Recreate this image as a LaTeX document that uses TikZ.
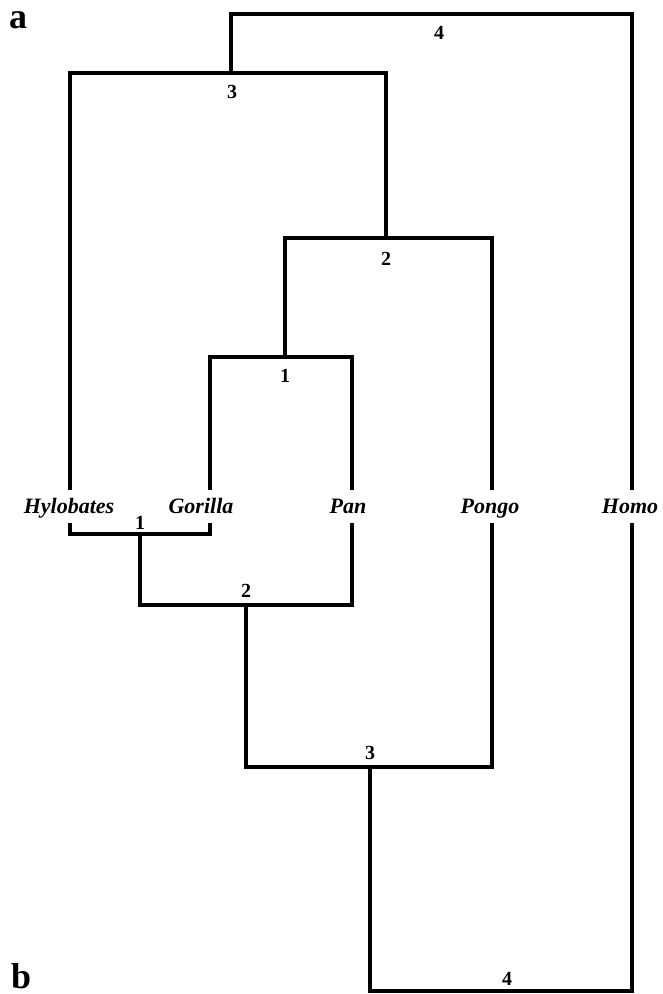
\documentclass[tikz,border=0pt]{standalone}
\usepackage{fontspec}
\setmainfont{Liberation Serif}
\begin{document}
\begin{tikzpicture}[x=1pt,y=-1pt,
  br/.style={line width=4.5pt,line join=miter,line cap=butt},
  taxon/.style={inner sep=0pt,anchor=base,font=\fontsize{22}{22}\selectfont\bfseries\itshape},
  num/.style={inner sep=0pt,anchor=base,font=\fontsize{20}{20}\selectfont\bfseries},
  panel/.style={inner sep=0pt,anchor=base west,font=\fontsize{36}{36}\selectfont\bfseries}]
\useasboundingbox (0,0) rectangle (663,994);
% panel letters
\node[panel] (pa) at (9,28) {a};
\node[panel] (pb) at (11,988) {b};
% taxa
\node[taxon] (hyl) at (69,513) {Hylobates};
\node[taxon] (gor) at (201,513) {Gorilla};
\node[taxon] (pan) at (348,513) {Pan};
\node[taxon] (pon) at (490,513) {Pongo};
\node[taxon] (hom) at (630,513) {Homo};
% line ends at taxa
\coordinate (hylu) at (70,490);  \coordinate (hyld) at (70,523);
\coordinate (goru) at (210,490); \coordinate (gord) at (210,523);
\coordinate (panu) at (352,490); \coordinate (pand) at (352,523);
\coordinate (ponu) at (492,490); \coordinate (pond) at (492,523);
\coordinate (homu) at (632,490); \coordinate (homd) at (632,523);
% top tree joints
\coordinate (t1) at (285,357);
\coordinate (t2) at (386,238);
\coordinate (t3) at (231,73);
\coordinate (t4) at (439,14);
% bottom tree joints
\coordinate (b1) at (140,534);
\coordinate (b2) at (246,605);
\coordinate (b3) at (370,767);
\coordinate (b4) at (507,991);
% top tree
\draw[br] (goru) |- (t1) -| (panu);
\draw[br] (t1) |- (t2) -| (ponu);
\draw[br] (hylu) |- (t3) -| (t2);
\draw[br] (t3) |- (t4) -| (homu);
% bottom tree
\draw[br] (hyld) |- (b1) -| (gord);
\draw[br] (b1) |- (b2) -| (pand);
\draw[br] (b2) |- (b3) -| (pond);
\draw[br] (b3) |- (b4) -| (homd);
% node numbers
\node[num] (n1t) at (285,382) {1};
\node[num] (n2t) at (386,265) {2};
\node[num] (n3t) at (232,98) {3};
\node[num] (n4t) at (439,39) {4};
\node[num] (n1b) at (140,529) {1};
\node[num] (n2b) at (246,597) {2};
\node[num] (n3b) at (370,759) {3};
\node[num] (n4b) at (507,985) {4};
\end{tikzpicture}
\end{document}
